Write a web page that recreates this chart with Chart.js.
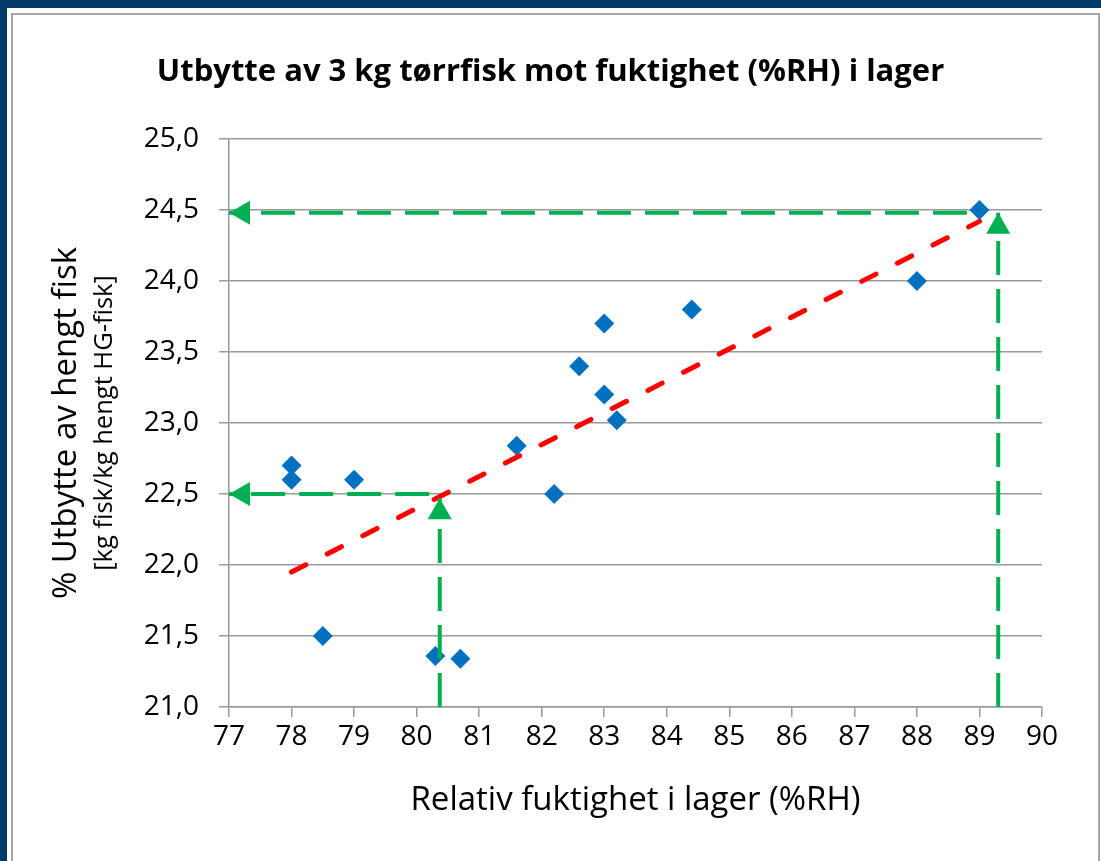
<!DOCTYPE html>
<html>
<head>
<meta charset="utf-8">
<script src="https://cdn.jsdelivr.net/npm/chart.js@4/dist/chart.umd.min.js"></script>
<style>
html,body{margin:0;padding:0;width:1101px;height:861px;overflow:hidden;background:#023c6a;}
#panel{position:absolute;left:7px;top:8px;width:1094px;height:853px;background:#ffffff;}
#frame{position:absolute;left:11px;top:13px;width:1089px;height:870px;border:2px solid #a6a6a6;box-sizing:border-box;}
#wrap{position:absolute;left:0;top:0;width:1101px;height:861px;}
</style>
</head>
<body>
<div id="panel"></div>
<div id="frame"></div>
<div id="wrap"><canvas id="c" width="1101" height="861"></canvas></div>
<script>
// ---- data ----
const rhValues    = [78.0, 78.0, 78.5, 79.0, 80.3, 80.7, 81.6, 82.2, 82.6, 83.0, 83.0, 83.2, 84.4, 88.0, 89.0];
const yieldValues = [22.7, 22.6, 21.5, 22.6, 21.36, 21.34, 22.84, 22.5, 23.4, 23.7, 23.2, 23.02, 23.8, 24.0, 24.5];

const trendRh    = [78.0, 89.0];
const trendYield = [21.95, 24.42];

const guideLowHRh     = [80.2, 77.0];
const guideLowHYield  = [22.5, 22.5];
const guideLowVRh     = [80.37, 80.37];
const guideLowVYield  = [21.0, 22.47];
const guideHighHRh    = [88.8, 77.0];
const guideHighHYield = [24.48, 24.48];
const guideHighVRh    = [89.3, 89.3];
const guideHighVYield = [21.0, 24.48];

const xMin = 77, xMax = 90, xStep = 1;
const yMin = 21, yMax = 25, yStep = 0.5;

const chartTitle = 'Utbytte av 3 kg tørrfisk mot fuktighet (%RH) i lager';
const xTitle = 'Relativ fuktighet i lager (%RH)';
const yTitle = '% Utbytte av hengt fisk';
const ySubTitle = '[kg fisk/kg hengt HG-fisk]';

const zip = (xs, ys) => xs.map((x, i) => ({x: x, y: ys[i]}));

const GREEN = '#00b050', RED = '#ff0000', BLUE = '#0070c0', GRID = '#9a9a9a';
const FONT = "'Open Sans', sans-serif";

function guide(label, xs, ys) {
  return {
    type: 'scatter', label: label, data: zip(xs, ys), showLine: true,
    borderColor: GREEN, backgroundColor: GREEN, borderWidth: 4,
    borderDash: [34, 14], borderCapStyle: 'butt', pointRadius: 0, pointHoverRadius: 0,
    arrowHead: {length: 21, width: 24}, clip: false, order: 1
  };
}

const arrowHeads = {
  id: 'arrowHeads',
  afterDatasetsDraw(chart) {
    const ctx = chart.ctx;
    chart.data.datasets.forEach((ds, i) => {
      if (!ds.arrowHead) return;
      const pts = chart.getDatasetMeta(i).data;
      const a = pts[pts.length - 2], b = pts[pts.length - 1];
      const ang = Math.atan2(b.y - a.y, b.x - a.x);
      ctx.save();
      ctx.translate(b.x, b.y);
      ctx.rotate(ang);
      ctx.beginPath();
      ctx.moveTo(0, 0);
      ctx.lineTo(-ds.arrowHead.length, -ds.arrowHead.width / 2);
      ctx.lineTo(-ds.arrowHead.length, ds.arrowHead.width / 2);
      ctx.closePath();
      ctx.fillStyle = ds.borderColor;
      ctx.fill();
      ctx.restore();
    });
  }
};

const subTitle = {
  id: 'subTitle',
  afterDraw(chart) {
    const ctx = chart.ctx, ca = chart.chartArea;
    ctx.save();
    ctx.translate(105, (ca.top + ca.bottom) / 2);
    ctx.rotate(-Math.PI / 2);
    ctx.font = "25.5px " + FONT;
    ctx.fillStyle = '#000';
    ctx.textAlign = 'center';
    ctx.textBaseline = 'middle';
    ctx.fillText(ySubTitle, 0, 0);
    ctx.restore();
  }
};

Chart.defaults.font.family = FONT;
Chart.defaults.color = '#000';

new Chart(document.getElementById('c'), {
  type: 'scatter',
  data: {
    datasets: [
      guide('guideLowH', guideLowHRh, guideLowHYield),
      guide('guideLowV', guideLowVRh, guideLowVYield),
      guide('guideHighH', guideHighHRh, guideHighHYield),
      guide('guideHighV', guideHighVRh, guideHighVYield),
      {
        type: 'scatter', label: 'Trend', data: zip(trendRh, trendYield), showLine: true,
        borderColor: RED, borderWidth: 5, borderDash: [16, 24], borderCapStyle: 'round',
        pointRadius: 0, pointHoverRadius: 0, order: 1
      },
      {
        type: 'scatter', label: 'Utbytte', data: zip(rhValues, yieldValues),
        pointStyle: 'rectRot', pointRadius: 10, pointHoverRadius: 10,
        backgroundColor: BLUE, borderColor: BLUE, borderWidth: 0, order: 2
      }
    ]
  },
  options: {
    responsive: false,
    animation: false,
    devicePixelRatio: 1,
    layout: {padding: {left: 0, top: 0, right: 0, bottom: 0}},
    plugins: {
      legend: {display: false},
      tooltip: {enabled: false},
      title: {
        display: true, text: chartTitle, fullSize: true,
        font: {size: 31, weight: 'bold', family: FONT},
        color: '#000', padding: {top: 53.4, bottom: 48.4}
      }
    },
    scales: {
      x: {
        type: 'linear', min: xMin, max: xMax,
        afterFit(s) { s.height = 154; },
        ticks: {stepSize: xStep, padding: 3, font: {size: 28}, color: '#000', maxRotation: 0},
        grid: {display: true, drawOnChartArea: false, drawTicks: true, tickLength: 10, color: GRID, lineWidth: 1.5},
        border: {display: true, color: GRID, width: 1.5},
        title: {display: true, text: xTitle, font: {size: 33}, color: '#000', padding: {top: 0, bottom: 41}}
      },
      y: {
        type: 'linear', min: yMin, max: yMax,
        afterFit(s) { s.width = 229; },
        ticks: {
          stepSize: yStep, padding: 20, font: {size: 28}, color: '#000',
          callback: (v) => v.toFixed(1).replace('.', ',')
        },
        grid: {display: true, drawOnChartArea: true, drawTicks: true, tickLength: 10, color: GRID, lineWidth: 1.5},
        border: {display: true, color: GRID, width: 1.5},
        title: {display: true, text: yTitle, font: {size: 33}, color: '#000', padding: {top: 47, bottom: 0}}
      },
      yRightSpace: {
        type: 'linear', position: 'right', min: yMin, max: yMax, display: true,
        afterFit(s) { s.width = 59; },
        ticks: {display: false},
        grid: {display: false},
        border: {display: false},
        title: {display: false}
      }
    }
  },
  plugins: [arrowHeads, subTitle]
});
</script>
</body>
</html>
